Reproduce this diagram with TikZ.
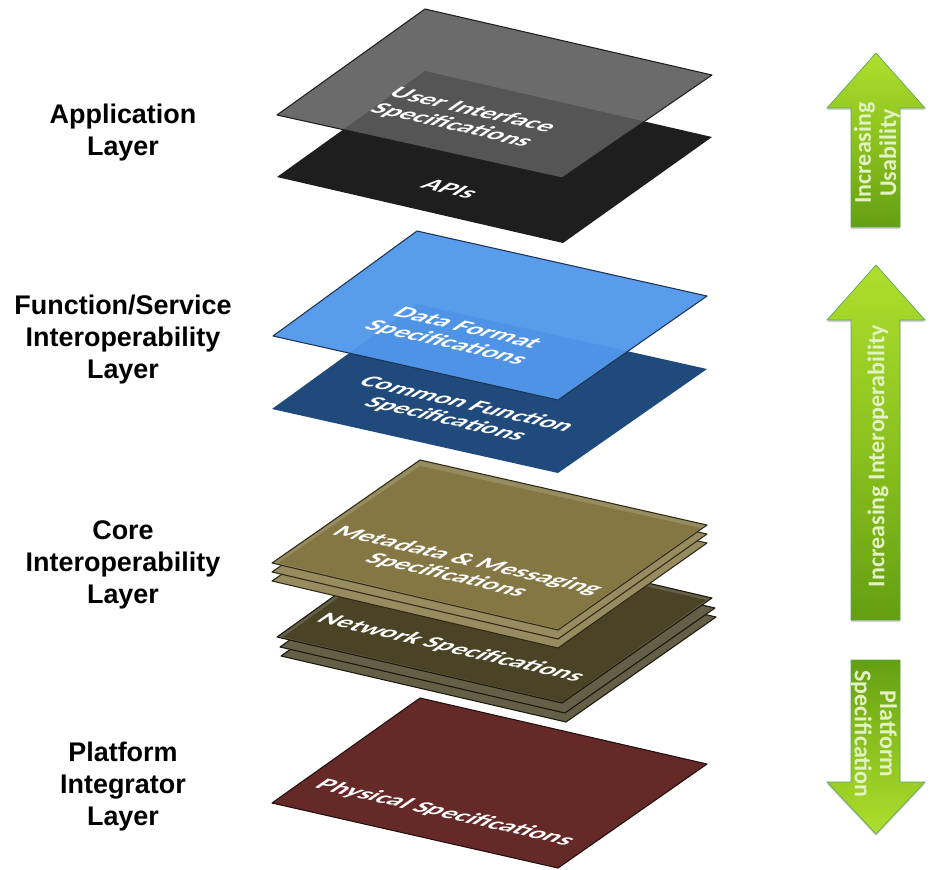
\documentclass[tikz,border=0pt]{standalone}
\usepackage{fontspec}
\setmainfont{Liberation Sans}
\newfontfamily\platefont{Carlito}
\usetikzlibrary{shadows}
\tikzset{
  plate/.style={line join=round,draw=#1!35!black,line width=.8pt},
  sidelabel/.style={align=center,font=\bfseries\fontsize{20.2}{24}\selectfont},
  platetext/.style={transform shape,cm={1,-.23,.72,.5,(0,0)},text=white,align=center,
    font=\platefont\bfseries\fontsize{20.5}{22}\selectfont},
  greenup/.style={draw=gray!70!green,line width=.5pt,top color=greenhead,bottom color=greenfoot,middle color=greenmid,
    drop shadow={opacity=.35,shadow xshift=0pt,shadow yshift=-1.5pt}},
  greendown/.style={draw=gray!70!green,line width=.5pt,top color=greenfoot,bottom color=greenhead,middle color=greenmid,
    drop shadow={opacity=.35,shadow xshift=0pt,shadow yshift=-1.5pt}},
  arrowtext/.style={align=center,text=arrowword,font=\platefont\bfseries\fontsize{18}{19}\selectfont},
}
\definecolor{greenhead}{HTML}{AEDE2E}
\definecolor{greenmid}{HTML}{8CC21E}
\definecolor{greenfoot}{HTML}{649F12}
\definecolor{arrowword}{HTML}{E2F2C4}
\definecolor{graytop}{HTML}{5B5B5B}
\definecolor{grayback}{HTML}{1E1E1E}
\definecolor{bluetop}{HTML}{5197EB}
\definecolor{blueback}{HTML}{214A7C}
\definecolor{olivetop}{HTML}{857744}
\definecolor{oliveback}{HTML}{4A4326}
\definecolor{redplate}{HTML}{652A28}
\begin{document}
\begin{tikzpicture}[x=.75pt,y=-.75pt]
  \useasboundingbox (0,0) rectangle (932,869);
  % labels
  \node[sidelabel] (appl) at (123,133) {Application\\Layer};
  \node[sidelabel] (func) at (123,340) {Function/Service\\Interoperability\\Layer};
  \node[sidelabel] (core) at (123,565) {Core\\Interoperability\\Layer};
  \node[sidelabel] (plat) at (123,787) {Platform\\Integrator\\Layer};
  % application
  \fill[grayback] (425,71) -- (712,137) -- (563,243) -- (277,177) -- cycle;
  \fill[graytop,fill opacity=.9] (425,9) -- (712,75) -- (562,178) -- (277,115) -- cycle;
  \draw[plate=graytop] (425,9) -- (712,75) -- (562,178) -- (277,115) -- cycle;
  \node[platetext] (ui) at (462,118) {User Interface\\Specifications};
  \node[platetext] (apis) at (450,189) {APIs};
  % function
  \fill[blueback] (417,304) -- (707,369) -- (558,473) -- (272,409) -- cycle;
  \fill[bluetop,fill opacity=.95] (417,231) -- (707,296) -- (558,400) -- (273,336) -- cycle;
  \draw[plate=bluetop] (417,231) -- (707,296) -- (558,400) -- (273,336) -- cycle;
  \node[platetext] (data) at (456,336) {Data Format\\Specifications};
  \node[platetext] (comm) at (456,412) {Common Function\\Specifications};
  % core
  \foreach \dx/\dy in {4/19,3/10,0/0}
    \filldraw[plate=oliveback,fill=oliveback!85!white] (425+\dx,531+\dy) -- (712+\dx,598+\dy) -- (562+\dx,703+\dy) -- (277+\dx,637+\dy) -- cycle;
  \fill[oliveback] (425,536) -- (706,600) -- (562,702) -- (283,637) -- cycle;
  \foreach \dy in {18,9,0}
    \filldraw[plate=olivetop,fill=olivetop!85!white] (420,460+\dy) -- (707,525+\dy) -- (558,630+\dy) -- (272,563+\dy) -- cycle;
  \fill[olivetop] (420,466) -- (701,528) -- (558,629) -- (278,563) -- cycle;
  \node[platetext] (meta) at (457,568) {Metadata \& Messaging\\Specifications};
  \node[platetext] (netw) at (451,648) {Network Specifications};
  % platform
  \filldraw[plate=redplate,fill=redplate] (420,698) -- (707,764) -- (558,868) -- (272,803) -- cycle;
  \node[platetext] (phys) at (445,813) {Physical Specifications};
  % arrows
  \draw[greenup] (876,53) -- (925,108) -- (900,108) -- (900,227) -- (851,227) -- (851,108) -- (827,108) -- cycle;
  \node[arrowtext,rotate=90] (usab) at (877,153) {Increasing\\Usability};
  \draw[greenup] (876,265) -- (925,320) -- (900,320) -- (900,620) -- (851,620) -- (851,320) -- (827,320) -- cycle;
  \node[arrowtext,rotate=90] (inter) at (878,456) {Increasing Interoperability};
  \draw[greendown] (851,660) -- (900,660) -- (900,782) -- (925,782) -- (876,834) -- (827,782) -- (851,782) -- cycle;
  \node[arrowtext,rotate=-90] (spec) at (874,734) {Platform\\Specification};
\end{tikzpicture}
\end{document}
